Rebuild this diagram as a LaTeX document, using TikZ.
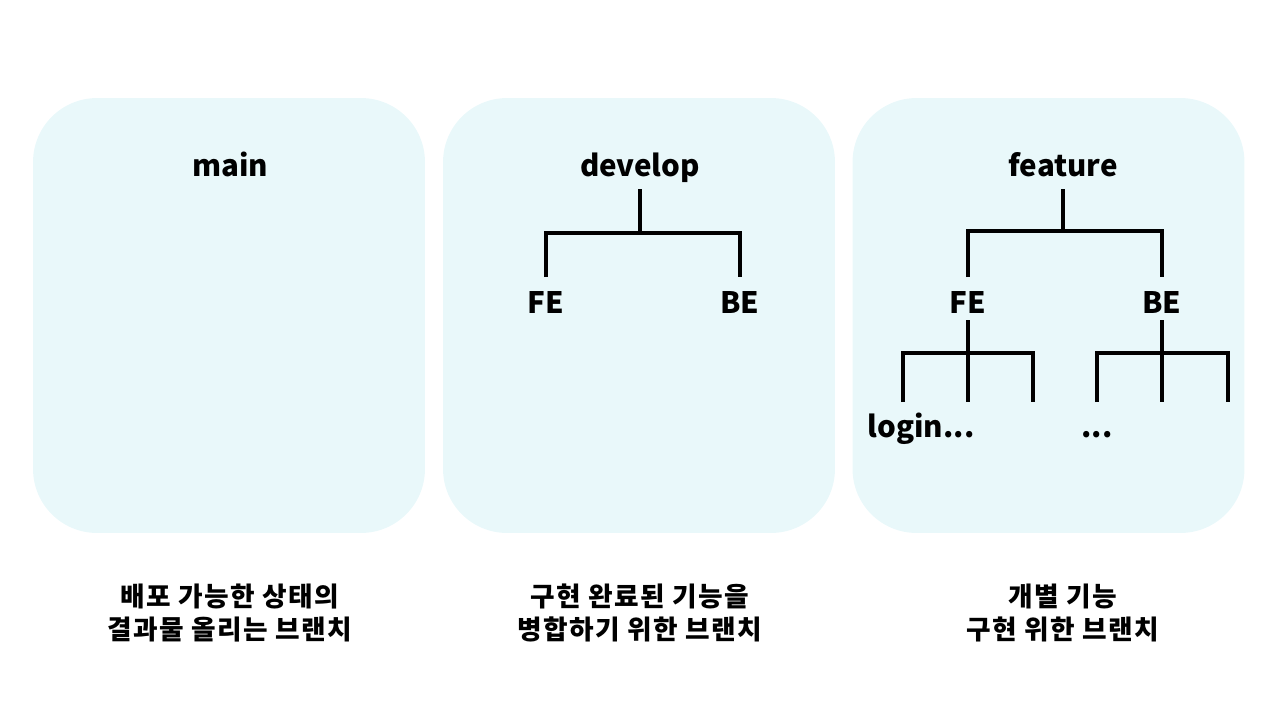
\documentclass[tikz,border=0pt]{standalone}
\usepackage{fontspec}
\setmainfont{Noto Sans CJK KR}
\newfontfamily\capfont{Noto Sans CJK KR}[LetterSpace=5]
\usetikzlibrary{positioning}
\definecolor{panelfill}{HTML}{E9F8FA}

\begin{document}
\begin{tikzpicture}[
            x = 0.02cm, y = -0.02cm,
            panel/.style = {rectangle, fill=panelfill, rounded corners=1.28cm, minimum width=7.84cm, minimum height=8.7cm, inner sep=0pt},
            title/.style = {font=\bfseries\fontsize{16.8}{18}\selectfont, inner sep=0pt, anchor=base},
            caption/.style = {font=\capfont\bfseries\fontsize{15.2}{18.8}\selectfont, align=center, inner sep=0pt},
            branch/.style = {line width=2.7pt, line join=miter}
        ]

            \useasboundingbox (0,0) rectangle (1280,720);

            % Panels
            \node[panel] (mainBox) at (229,315.5) {};
            \node[panel] (devBox) at (639,315.5) {};
            \node[panel] (featBox) at (1048.5,315.5) {};

            % Titles
            \node[title] (main) at (230,176) {main};
            \node[title] (dev) at (640,176) {develop};
            \node[title] (feat) at (1063,176) {feature};

            % develop tree
            \node[title] (devFE) at (546,313) {FE};
            \node[title] (devBE) at (740,313) {BE};
            \coordinate (devJ) at (640,233);
            \coordinate (devL) at (546,277);
            \coordinate (devR) at (740,277);
            \draw[branch] (dev) ++(0,22) -- (devJ);
            \draw[branch] (devL) |- (devJ) -| (devR);

            % feature tree
            \node[title] (fFE) at (968,313) {FE};
            \node[title] (fBE) at (1162,313) {BE};
            \coordinate (featJ) at (1063,231);
            \coordinate (featL) at (968,277);
            \coordinate (featR) at (1162,277);
            \draw[branch] (feat) ++(0,25) -- (featJ);
            \draw[branch] (featL) |- (featJ) -| (featR);

            % FE leaves
            \coordinate (fFEJ) at (968,353);
            \coordinate (fFE1) at (903,402);
            \coordinate (fFE2) at (968,402);
            \coordinate (fFE3) at (1033,402);
            \draw[branch] (fFE) ++(0,18) -- (fFE2);
            \draw[branch] (fFE1) |- (fFEJ) -| (fFE3);
            \node[title] (login) at (921,437) {login...};

            % BE leaves
            \coordinate (fBEJ) at (1162,353);
            \coordinate (fBE1) at (1097,402);
            \coordinate (fBE2) at (1162,402);
            \coordinate (fBE3) at (1228,402);
            \draw[branch] (fBE) ++(0,18) -- (fBE2);
            \draw[branch] (fBE1) |- (fBEJ) -| (fBE3);
            \node[title] (etc) at (1097,437) {...};

            % Captions
            \node[caption] (mainCap) at (230,613) {배포 가능한 상태의\\결과물 올리는 브랜치};
            \node[caption] (devCap) at (640,613) {구현 완료된 기능을\\병합하기 위한 브랜치};
            \node[caption] (featCap) at (1063,613) {개별 기능\\구현 위한 브랜치};

        \end{tikzpicture}
\end{document}
